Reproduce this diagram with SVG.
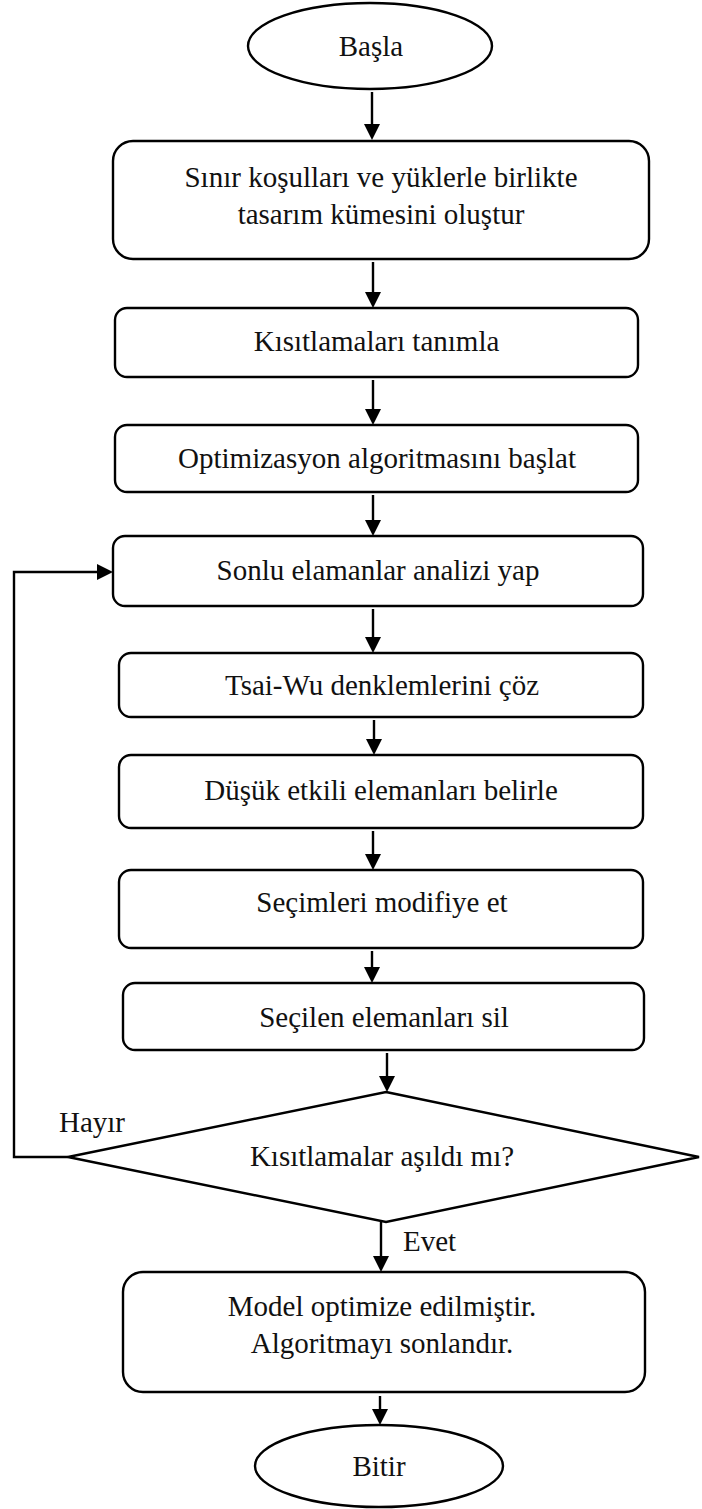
<svg xmlns="http://www.w3.org/2000/svg" width="702" height="1509" viewBox="0 0 702 1509">
<style>
.shape{fill:#ffffff;stroke:#000000;stroke-width:2.4}
.t{font-family:"Liberation Serif","Times New Roman",serif;font-size:29px;fill:#111111;text-anchor:middle}
.lbl{font-family:"Liberation Serif","Times New Roman",serif;font-size:29px;fill:#111111}
.conn{fill:none;stroke:#000000;stroke-width:2.4;marker-end:url(#ah)}
</style>
<defs>
<marker id="ah" markerUnits="userSpaceOnUse" markerWidth="16" markerHeight="16" refX="12" refY="8" orient="auto">
<path d="M0,0 L16,8 L0,16 z" fill="#000000"/>
</marker>
</defs>
<rect width="702" height="1509" fill="#ffffff"/>
<g id="connectors">
<line class="conn" x1="372" y1="92" x2="372" y2="136"/>
<line class="conn" x1="373" y1="262" x2="373" y2="304"/>
<line class="conn" x1="373" y1="380" x2="373" y2="421"/>
<line class="conn" x1="373" y1="495" x2="373" y2="532"/>
<line class="conn" x1="373" y1="609" x2="373" y2="649"/>
<line class="conn" x1="374" y1="720" x2="374" y2="751"/>
<line class="conn" x1="373" y1="831" x2="373" y2="866"/>
<line class="conn" x1="372" y1="951" x2="372" y2="979"/>
<line class="conn" x1="387" y1="1053" x2="387" y2="1088"/>
<line class="conn" x1="381" y1="1222" x2="381" y2="1268"/>
<line class="conn" x1="380" y1="1396" x2="380" y2="1421"/>
<polyline class="conn" points="68,1157 14,1157 14,572 109,572"/>
<text class="lbl" x="59" y="1132">Hayır</text>
<text class="lbl" x="403" y="1251">Evet</text>
</g>
<g id="start">
<ellipse class="shape" cx="370" cy="46" rx="122" ry="43"/>
<text class="t" x="371" y="56">Başla</text>
</g>
<g id="n1">
<rect class="shape" x="113" y="141" width="536" height="118" rx="20"/>
<text class="t" x="381" y="187">Sınır koşulları ve yüklerle birlikte</text>
<text class="t" x="381" y="224">tasarım kümesini oluştur</text>
</g>
<g id="n2">
<rect class="shape" x="115" y="308" width="523" height="69" rx="12"/>
<text class="t" x="376.5" y="351">Kısıtlamaları tanımla</text>
</g>
<g id="n3">
<rect class="shape" x="115" y="425" width="523" height="67" rx="12"/>
<text class="t" x="377" y="468">Optimizasyon algoritmasını başlat</text>
</g>
<g id="n4">
<rect class="shape" x="113" y="536" width="530" height="70" rx="12"/>
<text class="t" x="378" y="580">Sonlu elamanlar analizi yap</text>
</g>
<g id="n5">
<rect class="shape" x="119" y="653" width="524" height="64" rx="12"/>
<text class="t" x="382" y="695">Tsai-Wu denklemlerini çöz</text>
</g>
<g id="n6">
<rect class="shape" x="119" y="755" width="524" height="73" rx="12"/>
<text class="t" x="381" y="800">Düşük etkili elemanları belirle</text>
</g>
<g id="n7">
<rect class="shape" x="119" y="870" width="524" height="78" rx="12"/>
<text class="t" x="382" y="912">Seçimleri modifiye et</text>
</g>
<g id="n8">
<rect class="shape" x="123" y="983" width="521" height="67" rx="12"/>
<text class="t" x="384" y="1027">Seçilen elemanları sil</text>
</g>
<g id="decision">
<polygon class="shape" points="386,1092 699,1157 386,1222 68,1157"/>
<text class="t" x="382" y="1166">Kısıtlamalar aşıldı mı?</text>
</g>
<g id="n9">
<rect class="shape" x="123" y="1272" width="522" height="120" rx="20"/>
<text class="t" x="382" y="1316">Model optimize edilmiştir.</text>
<text class="t" x="382" y="1353">Algoritmayı sonlandır.</text>
</g>
<g id="end">
<ellipse class="shape" cx="379" cy="1466" rx="124" ry="41"/>
<text class="t" x="379" y="1476">Bitir</text>
</g>
</svg>
